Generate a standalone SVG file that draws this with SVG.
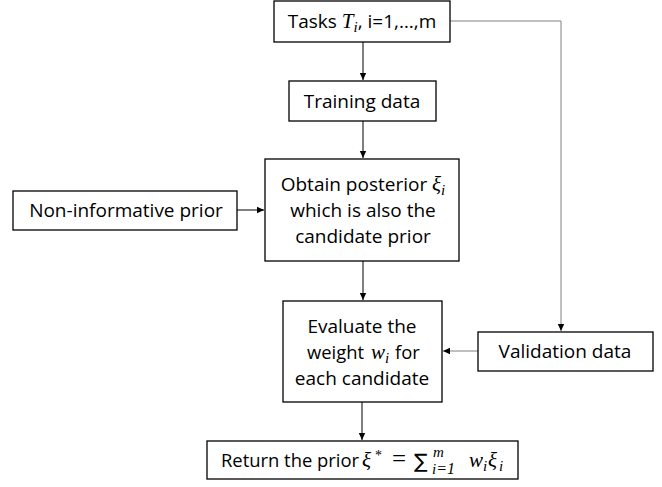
<svg xmlns="http://www.w3.org/2000/svg" width="662" height="487" viewBox="0 0 662 487">
<style>
.box{fill:#fff;stroke:#000;stroke-width:1.3}
.t{font-family:"Open Sans","Liberation Sans",sans-serif;font-size:19px;fill:#000;text-anchor:middle}
.s{font-family:"Open Sans","Liberation Sans",sans-serif;font-size:18.4px;fill:#000}
.m{font-family:"Liberation Serif","DejaVu Serif",serif;font-style:italic;fill:#000}
.r{font-family:"Liberation Serif","DejaVu Serif",serif;fill:#000}
.c{fill:none;stroke:#000;stroke-width:1}
.g{fill:none;stroke:#808080;stroke-width:1}
</style>
<defs>
<marker id="a" markerWidth="8" markerHeight="8" refX="7" refY="4" orient="auto" markerUnits="userSpaceOnUse">
<path d="M0,0.8 L7,4 L0,7.2 Z" fill="#000"/>
</marker>
</defs>
<g id="connectors">
<path class="c" d="M363,42 V80" marker-end="url(#a)"/>
<path class="c" d="M363,121 V158" marker-end="url(#a)"/>
<path class="c" d="M237,210 H264" marker-end="url(#a)"/>
<path class="c" d="M363,261 V300" marker-end="url(#a)"/>
<path class="g" d="M450,21 H561 V331" marker-end="url(#a)"/>
<path class="g" d="M478,351 H443" marker-end="url(#a)"/>
<path class="c" d="M362,402 V440" marker-end="url(#a)"/>
</g>
<g id="tasks">
<rect class="box" x="274" y="1" width="176" height="41"/>
<text class="t" x="362" y="28">Tasks <tspan class="m" font-size="21">T</tspan><tspan class="m" font-size="15" dy="4">i</tspan><tspan dy="-4">, i=1,…,m</tspan></text>
</g>
<g id="training">
<rect class="box" x="289" y="81" width="147" height="40"/>
<text class="t" x="362" y="108">Training data</text>
</g>
<g id="noninf">
<rect class="box" x="13" y="191" width="224" height="39"/>
<text class="t" x="126" y="217">Non-informative prior</text>
</g>
<g id="obtain">
<rect class="box" x="265" y="159" width="194" height="102"/>
<text class="t" x="363" y="191">Obtain posterior <tspan class="m" font-size="21">ξ</tspan><tspan class="m" font-size="15" dy="4">i</tspan></text>
<text class="t" x="363" y="217">which is also the</text>
<text class="t" x="363" y="243">candidate prior</text>
</g>
<g id="evaluate">
<rect class="box" x="283" y="301" width="159" height="101"/>
<text class="t" x="362" y="333">Evaluate the</text>
<text class="s" x="307" y="359">weight</text>
<text class="m" x="371" y="359" font-size="21">w</text>
<text class="m" x="385" y="363" font-size="15">i</text>
<text class="s" x="395" y="359">for</text>
<text class="t" x="362" y="385">each candidate</text>
</g>
<g id="validation">
<rect class="box" x="478" y="332" width="175" height="39"/>
<text class="t" x="565" y="358">Validation data</text>
</g>
<g id="return">
<rect class="box" x="207" y="441" width="311" height="38"/>
<text class="s" x="221" y="467">Return the prior</text>
<text class="m" x="362" y="467" font-size="21">ξ</text>
<text class="r" x="375" y="460" font-size="14">*</text>
<text class="r" x="392" y="467" font-size="25">=</text>
<text font-family="DejaVu Sans" x="414" y="468" font-size="20">∑</text>
<text class="m" x="433" y="457" font-size="15">m</text>
<text class="m" x="432" y="474" font-size="15">i<tspan class="r" font-size="16">=1</tspan></text>
<text class="m" x="469" y="467" font-size="21">w</text>
<text class="m" x="483" y="471" font-size="15">i</text>
<text class="m" x="488" y="467" font-size="21">ξ</text>
<text class="m" x="499" y="471" font-size="15">i</text>
</g>
</svg>
